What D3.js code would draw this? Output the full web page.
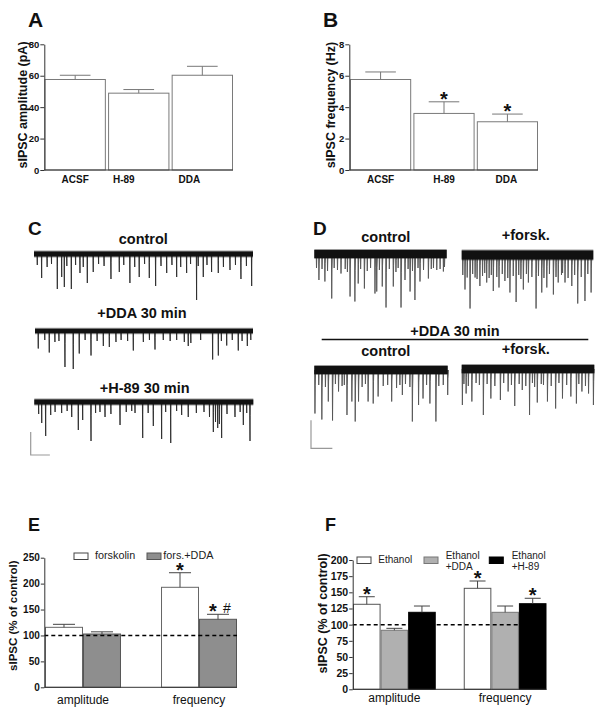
<!DOCTYPE html>
<html><head><meta charset="utf-8">
<script src="https://cdn.jsdelivr.net/npm/d3@7"></script>
<style>body{margin:0;background:#fff} svg{display:block;font-family:Arial,"Liberation Sans",sans-serif}</style>
</head><body><svg id="c" width="604" height="717"></svg>
<script>
// ---------- DATA ----------
const groupsAB = ["ACSF", "H-89", "DDA"];
const ampMean = [57.6, 48.9, 60.3];
const ampErr = [2.7, 2.3, 5.7];
const freqMean = [5.76, 3.6, 3.07];
const freqErr = [0.48, 0.74, 0.49];
const freqSig = ["", "*", "*"];
const ticksA = [0, 20, 40, 60, 80];
const ticksB = [0, 2, 4, 6, 8];

const measures = ["amplitude", "frequency"];
const seriesE = ["forskolin", "fors.+DDA"];
const meanE = [[115.7, 102.8], [192.9, 131.2]];
const errE = [[5.8, 4.2], [28.1, 9.6]];
const sigE = [["", ""], ["*", "*#"]];
const ticksE = [0, 50, 100, 150, 200, 250];

const seriesF = ["Ethanol", "Ethanol\n+DDA", "Ethanol\n+H-89"];
const meanF = [[131.5, 91.3, 119.1], [156.2, 119.1, 132.4]];
const errF = [[11.7, 3.0, 9.7], [11.3, 9.7, 8.4]];
const sigF = [["*", "", ""], ["*", "", "*"]];
const ticksF = [0, 25, 50, 75, 100, 125, 150, 175, 200];

// traces: events [time s, amplitude pA]
const traceC_control = [[0.3,22],[0.70,48],[1.2,26],[1.6,20],[2.13,70],[2.53,46],[2.77,66],[3.0,24],[3.41,70],[3.8,22],[4.20,38],[4.5,26],[4.87,58],[5.41,36],[5.9,20],[6.4,24],[7.03,50],[7.79,36],[8.2,22],[8.76,58],[9.2,26],[9.61,46],[10.1,20],[10.53,48],[11.11,64],[11.6,24],[12.12,38],[12.6,22],[13.03,46],[13.4,26],[13.94,38],[14.3,20],[14.85,92],[15.0,24],[15.46,46],[15.8,22],[16.22,36],[16.83,38],[17.3,26],[17.90,32],[18.4,22],[18.90,50],[19.4,24],[19.88,64]];
const traceC_DDA = [[0.30,35],[0.9,18],[1.31,43],[1.83,22],[2.2,20],[2.75,72],[3.51,76],[4.06,45],[4.6,18],[5.14,49],[5.7,20],[6.27,30],[6.82,32],[7.43,22],[7.9,18],[8.5,20],[9.02,39],[9.94,22],[10.5,18],[11.01,37],[11.77,18],[12.4,20],[13.0,18],[13.7,22],[14.06,30],[14.3,24],[15.2,18],[16.30,57],[16.82,49],[17.1,20],[17.59,29],[18.1,18],[18.65,39],[19.0,20],[19.48,30],[19.8,18]];
const traceC_H89 = [[0.4,24],[0.68,42],[1.04,68],[1.5,26],[1.9,20],[2.50,22],[3.0,18],[3.42,30],[4.02,56],[4.42,36],[5.18,78],[5.6,22],[6.0,20],[6.46,30],[7.0,24],[7.83,46],[8.4,20],[8.9,18],[9.20,22],[9.90,72],[10.4,22],[10.87,48],[11.63,74],[12.0,20],[12.46,82],[13.0,18],[13.46,26],[14.06,30],[14.8,22],[15.5,20],[16.0,30],[16.35,60],[16.55,40],[16.75,52],[16.9,44],[17.11,72],[17.6,24],[18.33,30],[18.8,20],[19.09,46],[19.4,22],[19.70,78]];

const traceD_control = [[1,28],[2.1,52],[3.5,30],[4.8,55],[6,34],[7.9,89],[9,28],[10.5,32],[12.1,39],[14,30],[15,36],[16.2,85],[18.4,95],[19.9,59],[21,30],[22.7,69],[24,34],[25.5,28],[27.5,79],[28.3,75],[29.5,32],[30.8,65],[32.5,107],[34,30],[35.8,65],[37,36],[38,28],[39.3,107],[41.1,52],[42.5,30],[43.4,75],[44.5,34],[45.6,92],[47,28],[47.9,55],[49.5,32],[51.7,49],[53,30],[54,28],[55.5,32],[57,30],[58.5,35],[59,26]];
const traceD_forsk = [[0.5,40],[1.5,69],[2.5,45],[3.8,107],[5,38],[6.1,45],[7,48],[8.3,62],[9.5,42],[10.5,36],[11.4,55],[12.5,46],[13.5,40],[14.4,72],[16,44],[17.0,65],[18.5,38],[19.7,52],[21,46],[22.0,75],[23.5,42],[24.8,94],[26,40],[27,48],[28.1,69],[29.5,38],[30.4,55],[32,44],[33.9,107],[35,42],[36.5,75],[37.5,46],[38.8,65],[40,38],[41.8,79],[43,44],[44.0,55],[45.5,40],[46,36],[47.1,55],[48.5,46],[50.2,62],[51.5,40],[52.9,97],[54.5,44],[56.2,92],[57.5,38],[59.0,75]];
const traceD_DDAcontrol = [[0.3,87],[2,30],[3.4,99],[5,34],[6.3,63],[8.2,101],[9.5,28],[10.9,43],[12.5,32],[13.5,30],[14.7,90],[16.9,63],[18.4,103],[19.9,63],[21.5,34],[23,28],[24.2,63],[26.5,67],[28.7,53],[31,32],[33,30],[34.8,63],[37,36],[38.5,30],[39.6,50],[41,28],[43,34],[44.1,103],[46.9,70],[48.9,57],[50.5,30],[52.0,67],[54.7,103],[56,32],[58.0,30],[60.0,50]];
const traceD_DDAforsk = [[0.3,72],[1,30],[2.0,49],[3,34],[4.6,65],[6.5,28],[8,32],[9.8,92],[11.5,30],[13.2,59],[15,34],[17.5,62],[19,28],[21.0,45],[22.5,32],[24.0,74],[26,30],[27.4,42],[29,34],[30.7,92],[32,28],[33,36],[34.2,67],[36,30],[37,32],[38.8,65],[40.5,34],[42.5,79],[44,28],[45.6,59],[47.5,32],[49.4,55],[51.9,69],[53,30],[54.4,45],[56,34],[57.4,49],[59.6,72]];
const durC = 20, durD = 60;
const scaleBarC = [46, 1.75]; // pA, s
const scaleBarD = [56, 9.6];

// ---------- DRAWING ----------
const svg = d3.select("#c");
const FONT = 'Arial,"Liberation Sans",sans-serif';

function txt(x, y, s, size, weight, anchor, fill) {
  return svg.append("text").attr("x", x).attr("y", y).text(s)
    .attr("font-size", size).attr("font-weight", weight || "bold")
    .attr("text-anchor", anchor || "start").attr("fill", fill || "#111")
    .attr("font-family", FONT);
}
function star(x, cy, size) {
  txt(x, cy + 0.52 * size, "*", size, "bold", "middle", "#111");
}
function yAxis(g, y, ticks, ax, fs, tsize) {
  const a = g.append("g").attr("transform", `translate(${ax},0)`)
    .call(d3.axisLeft(y).tickValues(ticks).tickSize(tsize).tickSizeOuter(0).tickPadding(1));
  a.select(".domain").attr("stroke", "#333").attr("stroke-width", 1);
  a.selectAll(".tick line").attr("stroke", "#333");
  a.selectAll(".tick text").attr("font-size", fs).attr("font-weight", "bold")
    .attr("font-family", FONT).attr("fill", "#111");
}
function ylabel(cx, cy, s, size) {
  svg.append("text").attr("transform", `translate(${cx + 0.33 * size},${cy}) rotate(-90)`)
    .attr("text-anchor", "middle").attr("font-size", size).attr("font-weight", "bold")
    .attr("font-family", FONT).attr("fill", "#111").text(s);
}
function errBar(g, cx, yTop, yErr, cap, color) {
  g.append("line").attr("x1", cx).attr("x2", cx).attr("y1", yTop).attr("y2", yErr).attr("stroke", color);
  g.append("line").attr("x1", cx - cap / 2).attr("x2", cx + cap / 2).attr("y1", yErr).attr("y2", yErr).attr("stroke", color);
}

// Panels A & B
function panelAB(cfg) {
  const g = svg.append("g");
  const x = d3.scaleBand().domain(groupsAB).range([cfg.r0, cfg.r1]).paddingInner(0.035);
  const y = d3.scaleLinear().domain([0, cfg.max]).range([170, 44.3]);
  groupsAB.forEach((k, i) => {
    g.append("rect").attr("x", x(k) + 0.5).attr("y", y(cfg.mean[i]))
      .attr("width", x.bandwidth() - 1).attr("height", y(0) - y(cfg.mean[i]))
      .attr("fill", "#fff").attr("stroke", "#7a7a7a").attr("stroke-width", 1);
    const cx = x(k) + x.bandwidth() / 2;
    errBar(g, cx, y(cfg.mean[i]), y(cfg.mean[i] + cfg.err[i]), x.bandwidth() * 0.5, "#777");
    if (cfg.sig && cfg.sig[i]) star(cx, y(cfg.mean[i] + cfg.err[i]) - 6.7, 20);
    txt(cx + cfg.shift[i], 183.3, k, 10, "bold", "middle");
  });
  g.append("line").attr("x1", cfg.ax).attr("x2", cfg.r1).attr("y1", y(0)).attr("y2", y(0)).attr("stroke", "#333");
  yAxis(g, y, cfg.ticks, cfg.ax, 9.5, 4);
  ylabel(cfg.lx, 105, cfg.label, 12.5);
}
panelAB({r0: 44.5, r1: 233, ax: 44.3, max: 80, mean: ampMean, err: ampErr, ticks: ticksA,
  shift: [0, -15, -13], lx: 22.5, label: "sIPSC amplitude (pA)"});
panelAB({r0: 350, r1: 538, ax: 349.3, max: 8, mean: freqMean, err: freqErr, sig: freqSig, ticks: ticksB,
  shift: [0, 0, -1], lx: 331, label: "sIPSC frequency (Hz)"});

// Panels E & F
function panelEF(cfg) {
  const g = svg.append("g");
  const x0 = d3.scaleBand().domain(measures).range([cfg.r0, cfg.r1]).paddingInner(cfg.pad);
  const x1 = d3.scaleBand().domain(cfg.series).range([0, x0.bandwidth()]);
  const y = d3.scaleLinear().domain([0, cfg.max]).range([cfg.yb, cfg.yt]);
  measures.forEach((m, mi) => {
    cfg.series.forEach((s, si) => {
      const v = cfg.mean[mi][si], e = cfg.err[mi][si];
      const bx = x0(m) + x1(s);
      g.append("rect").attr("x", bx + 0.5).attr("y", y(v)).attr("width", x1.bandwidth() - 1)
        .attr("height", y(0) - y(v)).attr("fill", cfg.fills[si]).attr("stroke", cfg.strokes[si]);
      const cx = bx + x1.bandwidth() / 2;
      errBar(g, cx, y(v), y(v + e), x1.bandwidth() * 0.58, "#444");
      const sg = cfg.sig[mi][si];
      if (sg) {
        const cy = y(v + e) - 6.5;
        if (sg === "*#") {
          star(cx - 5, cy, 20);
          txt(cx + 9, cy + 5, "#", 14, "normal", "middle");
        } else star(cx, cy, 20);
      }
    });
    txt(x0(m) + x0.bandwidth() / 2, cfg.catY, m, 12, "normal", "middle");
  });
  g.append("line").attr("x1", cfg.ax).attr("x2", cfg.r1).attr("y1", y(0)).attr("y2", y(0)).attr("stroke", "#333");
  g.append("line").attr("x1", cfg.ax).attr("x2", cfg.r1).attr("y1", y(100)).attr("y2", y(100))
    .attr("stroke", "#000").attr("stroke-width", 1.5).attr("stroke-dasharray", "4,3");
  yAxis(g, y, cfg.ticks, cfg.ax, cfg.tfs, 3.5);
  ylabel(cfg.lx, cfg.ly, "sIPSC (% of control)", cfg.lfs);
  cfg.series.forEach((s, si) => {
    const L = cfg.legend[si];
    g.append("rect").attr("x", L[0]).attr("y", cfg.legY).attr("width", 14).attr("height", 6.5)
      .attr("fill", cfg.fills[si]).attr("stroke", si === 0 ? "#444" : cfg.strokes[si]);
    const lines = s.split("\n");
    if (lines.length === 1) txt(L[1], cfg.legY + 6.3, s, cfg.legFs, "normal", "start", "#222");
    else lines.forEach((ln, li) => txt(L[1], cfg.legY + 1.7 + li * 11.3, ln, cfg.legFs, "normal", "start", "#222"));
  });
}
panelEF({r0: 45, r1: 237, ax: 44.3, pad: 0.345, max: 250, yb: 687.3, yt: 557.7, series: seriesE,
  mean: meanE, err: errE, sig: sigE, ticks: ticksE, fills: ["#fff", "#8e8e8e"], strokes: ["#666", "#555"],
  catY: 704, tfs: 10, lx: 13.3, ly: 615.7, lfs: 11.5, legY: 553, legFs: 10.8, legend: [[74, 95], [147, 163.3]]});
panelEF({r0: 353, r1: 546.5, ax: 352.7, pad: 0.253, max: 200, yb: 689.3, yt: 560, series: seriesF,
  mean: meanF, err: errF, sig: sigF, ticks: ticksF, fills: ["#fff", "#b0b0b0", "#000"], strokes: ["#555", "#777", "#000"],
  catY: 702, tfs: 10.5, lx: 322.5, ly: 613.3, lfs: 12.5, legY: 557, legFs: 10, legend: [[357, 378.3], [424, 445.7], [489.3, 511.7]]});

// Traces
function trace(events, dur, x0, x1, base, band, evColor, decay) {
  const x = d3.scaleLinear().domain([0, dur]).range([x0, x1]);
  const y = d3.scaleLinear().domain([0, 100]).range([base, base + 50]);
  const g = svg.append("g");
  const p = d3.path();
  events.forEach(([t, a]) => {
    p.moveTo(x(t) - 0.3, y(0));
    p.lineTo(x(t), y(a));
    p.lineTo(x(t) + decay * 0.4, y(a * 0.35));
    p.lineTo(x(t) + decay, y(0));
  });
  g.append("path").attr("d", p.toString()).attr("fill", evColor).attr("stroke", evColor)
    .attr("stroke-width", 0.9).attr("stroke-linejoin", "round");
  g.append("line").attr("x1", x(0)).attr("x2", x(dur)).attr("y1", y(0)).attr("y2", y(0))
    .attr("stroke", "#222").attr("stroke-width", band + 2).attr("opacity", 0.45);
  g.append("line").attr("x1", x(0)).attr("x2", x(dur)).attr("y1", y(0)).attr("y2", y(0))
    .attr("stroke", "#111").attr("stroke-width", band);
  return {x, y};
}
function scaleBar(sc, bar, xLeft, yBottom) {
  const w = sc.x(bar[1]) - sc.x(0), h = sc.y(bar[0]) - sc.y(0);
  svg.append("path").attr("d", `M${xLeft},${yBottom - h}V${yBottom}H${xLeft + w}`)
    .attr("fill", "none").attr("stroke", "#999").attr("stroke-width", 1.2);
}

// Panel C
txt(28, 235, "C", 19, "bold");
txt(143.3, 244.3, "control", 14.5, "bold", "middle");
trace(traceC_control, durC, 34, 253, 254, 5, "#2a2a2a", 0.22);
txt(142, 317.7, "+DDA 30 min", 14.5, "bold", "middle");
trace(traceC_DDA, durC, 35, 253, 331, 4.5, "#2a2a2a", 0.22);
txt(144.7, 393.3, "+H-89 30 min", 14.5, "bold", "middle");
const sc3 = trace(traceC_H89, durC, 34.3, 253.3, 402, 5, "#2a2a2a", 0.22);
scaleBar(sc3, scaleBarC, 30.7, 455);

// Panel D
txt(313, 235, "D", 19, "bold");
txt(385.8, 241.7, "control", 14.5, "bold", "middle");
txt(525.8, 240, "+forsk.", 14.5, "bold", "middle");
trace(traceD_control, durD, 314.3, 446.7, 254, 8, "#555", 0.7);
trace(traceD_forsk, durD, 461.7, 593.3, 255, 9, "#555", 0.7);
txt(455, 335.7, "+DDA 30 min", 14.5, "bold", "middle");
svg.append("line").attr("x1", 321.7).attr("x2", 588.3).attr("y1", 339.5).attr("y2", 339.5)
  .attr("stroke", "#111").attr("stroke-width", 1.5);
txt(385.8, 356, "control", 14.5, "bold", "middle");
txt(525.8, 354.3, "+forsk.", 14.5, "bold", "middle");
const scD = trace(traceD_DDAcontrol, durD, 314.3, 447.7, 370, 8, "#555", 0.7);
trace(traceD_DDAforsk, durD, 461.7, 594.3, 369, 8, "#555", 0.7);
scaleBar(scD, scaleBarD, 311, 448.3);

// Panel letters
txt(28, 27, "A", 21, "bold");
txt(323, 26.5, "B", 21, "bold");
txt(28, 531, "E", 18, "bold");
txt(325, 531, "F", 18, "bold");
</script></body></html>
